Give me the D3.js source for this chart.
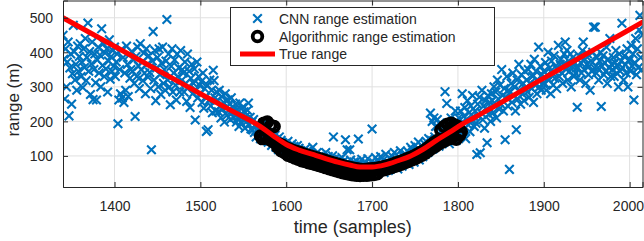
<!DOCTYPE html>
<html><head><meta charset="utf-8">
<script src="https://cdn.jsdelivr.net/npm/d3@7"></script>
<style>
body{margin:0;background:#fff}
svg{display:block}
text{font-family:"Liberation Sans",Arial,Helvetica,sans-serif;fill:#262626}
</style>
</head><body>
<svg id="chart" width="644" height="241"></svg>
<script>
// ---- data ----
const xDomain = [1340, 2015];
const yDomain = [10, 550];
const xTicks = [1400, 1500, 1600, 1700, 1800, 1900, 2000];
const yTicks = [100, 200, 300, 400, 500];
const xLabel = "time (samples)";
const yLabel = "range (m)";
const legendLabels = ["CNN range estimation", "Algorithmic range estimation", "True range"];

// CNN estimates, one per sample starting at 1340
const cnnStart = 1340;
const cnnRange = [
449,380,265,410,300,372,430,216,355,395,250,338,478,402,320,365,290,418,345,388,
425,330,372,298,410,356,440,318,385,485,345,402,278,366,430,263,350,395,312,262,
378,415,340,392,300,468,362,425,330,398,352,410,285,375,436,322,388,345,405,360,
415,330,372,395,193,262,350,280,408,268,385,255,340,290,418,365,272,392,325,350,
402,345,378,310,214,388,330,415,360,295,425,350,372,318,398,340,280,410,365,328,
390,342,295,118,375,460,320,405,260,355,385,300,410,335,278,368,415,310,350,290,
375,495,320,395,300,248,360,410,285,340,378,305,262,395,330,355,285,405,318,350,
340,285,372,310,258,395,300,345,240,325,365,280,310,352,204,290,372,268,330,305,
280,315,255,340,238,295,270,171,305,176,260,320,245,290,225,348,318,268,230,285,
262,228,290,245,210,272,235,255,198,280,240,218,262,232,250,205,268,225,242,212,
228,250,198,235,210,185,253,220,195,240,205,228,180,215,200,232,253,190,212,178,
198,175,205,168,188,155,195,172,160,185,150,178,165,195,145,170,182,155,162,140,
168,145,158,130,172,150,138,160,125,148,140,118,155,132,145,122,138,128,112,135,
130,115,142,108,125,120,98,135,112,128,105,118,95,130,110,122,100,115,92,108,
112,95,120,102,88,115,98,108,80,105,92,125,85,100,95,78,110,90,98,82,
95,85,102,72,92,80,110,68,88,98,75,90,65,85,100,155,78,92,70,84,
82,68,90,58,78,95,62,85,72,147,55,118,80,65,118,88,60,75,50,82,
70,58,85,48,149,65,78,55,90,62,72,45,80,68,58,92,52,75,64,48,
178,62,80,55,95,68,50,85,72,60,98,58,75,88,52,70,105,64,80,58,
78,92,65,100,72,85,110,68,90,80,62,95,75,115,85,70,100,88,78,105,
98,85,112,75,105,125,90,118,100,82,130,108,95,120,140,88,115,105,128,98,
118,135,105,142,125,110,150,130,224,145,200,120,210,155,185,138,205,165,128,195,
155,170,140,185,160,286,148,252,175,195,135,180,210,160,150,190,172,230,145,200,
185,210,160,230,195,280,175,215,240,150,205,260,190,225,170,245,200,275,215,185,
230,195,104,250,215,270,109,225,290,205,245,180,260,235,138,275,220,255,200,280,
260,225,300,245,285,210,320,265,235,305,250,350,275,230,295,147,270,330,245,290,
61,285,310,255,340,275,300,230,176,320,265,365,290,250,335,280,310,260,345,295,
320,285,350,270,310,365,295,330,255,380,305,345,280,320,415,300,360,290,335,310,
345,310,370,290,335,400,320,355,280,375,340,305,390,325,360,295,350,420,330,365,
380,340,310,365,395,430,350,406,320,375,345,395,300,360,385,330,370,340,355,241,
355,390,320,370,340,405,430,350,380,310,365,395,335,360,290,375,345,400,473,355,
473,340,385,355,320,375,400,243,360,390,335,370,345,415,310,380,355,440,330,365,
350,385,330,370,405,340,360,300,395,345,375,484,355,320,390,365,340,410,300,375,
380,345,420,360,395,262,370,440,335,410,355,465,507,385,350,450
];

// Algorithmic estimates, every 2 samples starting at 1570
const algoStart = 1570;
const algoStep = 2;
const algoRange = [
158,150,195,155,198,148,188,142,185,138,
125,135,115,130,110,124,102,120,98,116,
94,113,90,110,86,106,84,103,80,100,
78,97,75,94,72,91,69,88,66,85,
63,82,60,79,57,76,54,73,51,70,
49,68,47,66,45,64,44,62,43,61,
44,61,44,62,45,63,46,64,48,66,
58,68,60,70,63,73,66,76,69,80,
72,83,76,87,80,91,84,95,88,99,
92,104,97,110,102,115,108,122,115,130,
122,138,128,145,135,175,140,185,145,192,
150,195,155,190,148,185,160,170
];

// True range
const trueTime  = [1340,1380,1420,1460,1500,1540,1570,1585,1600,1615,1630,1645,1660,1675,1686,1700,1715,1730,1745,1760,1775,1790,1805,1820,1840,1880,1920,1960,2000,2015];
const trueRange = [500, 445, 390, 335, 280, 226, 185, 158, 133, 117, 105, 93,  82,  73,  68,  68,  74,  86,  100, 120, 145, 168, 192, 212, 240, 297, 353, 410, 466, 487];

// ---- drawing ----
const svg = d3.select("#chart");
const L = 63, R = 642.5, T = 0.5, B = 187;
const x = d3.scaleLinear().domain(xDomain).range([L, R]);
const y = d3.scaleLinear().domain(yDomain).range([B, T]);
const axisColor = "#262626";

svg.append("defs").append("clipPath").attr("id", "clip")
  .append("rect").attr("x", L).attr("y", T).attr("width", R - L).attr("height", B - T);

// grid
const grid = svg.append("g");
grid.selectAll(".gx").data(xTicks).join("line")
  .attr("x1", d => x(d)).attr("x2", d => x(d)).attr("y1", T).attr("y2", B)
  .attr("stroke", "#e0e0e0").attr("stroke-width", 1);
grid.selectAll(".gy").data(yTicks).join("line")
  .attr("x1", L).attr("x2", R).attr("y1", d => y(d)).attr("y2", d => y(d))
  .attr("stroke", "#e0e0e0").attr("stroke-width", 1);

const plot = svg.append("g").attr("clip-path", "url(#clip)");

// CNN x markers
const cnnData = cnnRange.map((v, i) => [cnnStart + i, v]);
const xm = 4.3;
plot.append("g").selectAll("path").data(cnnData).join("path")
  .attr("transform", d => `translate(${x(d[0])},${y(d[1])})`)
  .attr("d", `M${-xm},${-xm}L${xm},${xm}M${-xm},${xm}L${xm},${-xm}`)
  .attr("stroke", "#0072BD").attr("stroke-width", 2.1).attr("fill", "none");

// algorithmic circles
const algoData = algoRange.map((v, i) => [algoStart + i * algoStep, v]);
plot.append("g").selectAll("circle").data(algoData).join("circle")
  .attr("cx", d => x(d[0])).attr("cy", d => y(d[1])).attr("r", 4.8)
  .attr("fill", "none").attr("stroke", "#000").attr("stroke-width", 3.8);

// true range line
const trueData = trueTime.map((t, i) => [t, trueRange[i]]);
plot.append("path").datum(trueData)
  .attr("d", d3.line().x(d => x(d[0])).y(d => y(d[1])).curve(d3.curveMonotoneX))
  .attr("fill", "none").attr("stroke", "#ff0000").attr("stroke-width", 5)
  .attr("stroke-linecap", "round").attr("stroke-linejoin", "round");

// axes
const xAxis = d3.axisBottom(x).tickValues(xTicks).tickSize(-5).tickPadding(14).tickFormat(d3.format("d"));
const yAxis = d3.axisLeft(y).tickValues(yTicks).tickSize(-5).tickPadding(10).tickFormat(d3.format("d"));
const gx = svg.append("g").attr("transform", `translate(0,${B})`).call(xAxis);
const gy = svg.append("g").attr("transform", `translate(${L},0)`).call(yAxis);
const gxt = svg.append("g").attr("transform", `translate(0,${T})`).call(d3.axisTop(x).tickValues(xTicks).tickSize(-5).tickFormat(""));
const gyr = svg.append("g").attr("transform", `translate(${R},0)`).call(d3.axisRight(y).tickValues(yTicks).tickSize(-5).tickFormat(""));
[gx, gy, gxt, gyr].forEach(g => {
  g.select(".domain").attr("stroke", axisColor).attr("stroke-width", 1);
  g.selectAll(".tick line").attr("stroke", axisColor).attr("stroke-width", 1);
  g.selectAll(".tick text").attr("fill", axisColor).style("font-size", "14px").attr("font-family", null);
});
gx.selectAll(".tick text").attr("dy", "0.71em");
gy.selectAll(".tick text").attr("dy", "0.36em");
// keep the last x tick label inside the picture
gx.selectAll(".tick").each(function(d) {
  const t = d3.select(this).select("text");
  const w = t.node().getComputedTextLength();
  const over = x(d) + w / 2 - 643.5;
  if (over > 0) t.attr("x", -over);
});

// axis labels
svg.append("text").attr("x", (L + R) / 2).attr("y", 233).attr("text-anchor", "middle")
  .style("font-size", "18px").text(xLabel);
svg.append("text").attr("transform", `translate(19,${(T + B) / 2 + 6}) rotate(-90)`)
  .attr("text-anchor", "middle").style("font-size", "17px").text(yLabel);

// legend
const lg = svg.append("g");
lg.append("rect").attr("x", 230.5).attr("y", 7.5).attr("width", 264).attr("height", 58)
  .attr("fill", "#fff").attr("stroke", axisColor).attr("stroke-width", 1);
const rowY = [18.5, 36.5, 54];
const mx = 257.5;
lg.append("path").attr("transform", `translate(${mx},${rowY[0]})`)
  .attr("d", `M${-xm},${-xm}L${xm},${xm}M${-xm},${xm}L${xm},${-xm}`)
  .attr("stroke", "#0072BD").attr("stroke-width", 2.1);
lg.append("circle").attr("cx", mx).attr("cy", rowY[1]).attr("r", 4.8)
  .attr("fill", "none").attr("stroke", "#000").attr("stroke-width", 3.8);
lg.append("line").attr("x1", 240).attr("x2", 275).attr("y1", rowY[2]).attr("y2", rowY[2])
  .attr("stroke", "#ff0000").attr("stroke-width", 5);
lg.selectAll("text.lt").data(legendLabels).join("text")
  .attr("x", 279).attr("y", (d, i) => rowY[i] + 5)
  .style("font-size", "14px").attr("fill", "#000").text(d => d);
</script>
</body></html>
